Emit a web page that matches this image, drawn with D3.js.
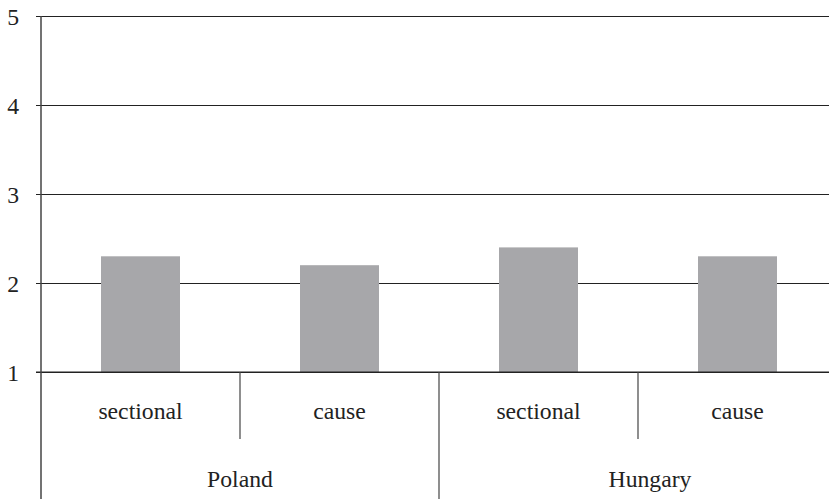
<!DOCTYPE html>
<html>
<head>
<meta charset="utf-8">
<script src="https://cdn.jsdelivr.net/npm/d3@7"></script>
</head>
<body style="margin:0">
<svg id="chart" width="829" height="499"></svg>
<script>
const groups = ['Poland', 'Hungary'];
const subCategories = ['sectional', 'cause'];
const values = [2.3, 2.2, 2.4, 2.3];
const yTicks = [1, 2, 3, 4, 5];

const svg = d3.select('#chart');
const width = +svg.attr('width');
const height = +svg.attr('height');

const margin = {top: 16, left: 41};
const axisY = 372;
const fontFamily = 'Liberation Serif';
const fontSize = 23.7;

// one slot per bar, groups in order
const leaves = [];
groups.forEach(g => subCategories.forEach(s => leaves.push({group: g, sub: s})));
leaves.forEach((d, i) => d.value = values[i]);

const xScale = d3.scaleBand()
    .domain(leaves.map((d, i) => i))
    .range([margin.left, margin.left + 4 * 199]);

const groupScale = d3.scaleBand()
    .domain(groups)
    .range(xScale.range());

const yScale = d3.scaleLinear()
    .domain([1, 5])
    .range([axisY, margin.top]);

const lineColor = '#222';

// gridlines + ticks
const yAxis = d3.axisLeft(yScale)
    .tickValues(yTicks)
    .tickSize(-(width - margin.left))
    .tickPadding(22)
    .tickFormat(d3.format('d'));

const gy = svg.append('g')
    .attr('transform', 'translate(' + margin.left + ',0)')
    .call(yAxis)
    .attr('font-family', null)
    .attr('font-size', null);
gy.select('.domain').remove();
gy.selectAll('.tick line')
    .attr('x1', -5)
    .attr('stroke', lineColor)
    .attr('stroke-width', 1.2);
gy.selectAll('.tick text')
    .attr('font-family', fontFamily)
    .attr('font-size', fontSize)
    .style('font-family', fontFamily)
    .attr('fill', '#222')
    .attr('dy', '0.36em');

// bars
const barWidth = 79;
svg.append('g').selectAll('rect')
    .data(leaves)
    .enter()
    .append('rect')
    .attr('x', (d, i) => xScale(i) + (xScale.bandwidth() - barWidth) / 2)
    .attr('width', barWidth)
    .attr('y', d => yScale(d.value))
    .attr('height', d => yScale(1) - yScale(d.value))
    .attr('fill', '#a7a7aa');

// redraw baseline over bars
svg.append('line')
    .attr('x1', margin.left - 5).attr('x2', width)
    .attr('y1', yScale(1)).attr('y2', yScale(1))
    .attr('stroke', lineColor).attr('stroke-width', 1.2);

// y axis line
svg.append('line')
    .attr('x1', margin.left).attr('x2', margin.left)
    .attr('y1', margin.top).attr('y2', height)
    .attr('stroke', '#444').attr('stroke-width', 1.5);

// separators between sub categories / groups
const subSep = [];
const groupSep = [];
leaves.forEach((d, i) => {
    if (i === 0) return;
    if (i % subCategories.length === 0) groupSep.push(i); else subSep.push(i);
});

svg.append('g').selectAll('line')
    .data(subSep)
    .enter()
    .append('line')
    .attr('x1', i => xScale(i)).attr('x2', i => xScale(i))
    .attr('y1', axisY).attr('y2', 439)
    .attr('stroke', '#444').attr('stroke-width', 1.2);

svg.append('g').selectAll('line')
    .data(groupSep)
    .enter()
    .append('line')
    .attr('x1', i => xScale(i)).attr('x2', i => xScale(i))
    .attr('y1', axisY).attr('y2', height)
    .attr('stroke', '#444').attr('stroke-width', 1.2);

// sub category labels
svg.selectAll('text.sub')
    .data(leaves)
    .enter()
    .append('text')
    .attr('class', 'sub')
    .attr('x', (d, i) => xScale(i) + xScale.bandwidth() / 2)
    .attr('y', 419)
    .attr('text-anchor', 'middle')
    .attr('font-family', fontFamily)
    .style('font-family', fontFamily)
    .attr('font-size', fontSize)
    .attr('fill', '#222')
    .text(d => d.sub);

// group labels (the last group's label sits a little right of its band centre)
const groupNudge = [0, 12];
svg.selectAll('text.grp')
    .data(groups)
    .enter()
    .append('text')
    .attr('class', 'grp')
    .attr('x', (d, i) => groupScale(d) + groupScale.bandwidth() / 2 + groupNudge[i])
    .attr('y', 487)
    .attr('text-anchor', 'middle')
    .attr('font-family', fontFamily)
    .style('font-family', fontFamily)
    .attr('font-size', fontSize)
    .attr('fill', '#222')
    .text(d => d);
</script>
</body>
</html>
